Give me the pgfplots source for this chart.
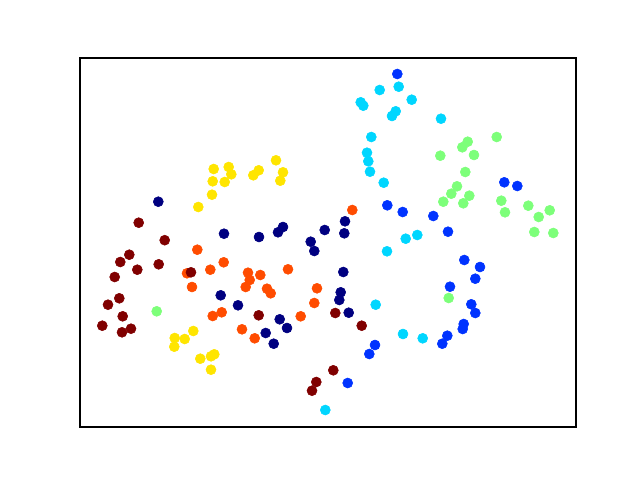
\documentclass[border=0pt]{standalone}
\usepackage{pgfplots}
\pgfplotsset{compat=1.18}

\definecolor{c0}{rgb}{0,0,0.5}
\definecolor{c1}{rgb}{0,0.2,1}
\definecolor{c2}{rgb}{0,0.84,1}
\definecolor{c3}{rgb}{0.49,1,0.48}
\definecolor{c4}{rgb}{1,0.9,0}
\definecolor{c5}{rgb}{1,0.3,0}
\definecolor{c6}{rgb}{0.5,0,0}

\begin{document}
\begin{tikzpicture}[x=1pt,y=1pt]
\path (0,0) rectangle (460.8,345.6);
\begin{axis}[
  at={(57.6pt,38.16pt)}, anchor=south west,
  scale only axis,
  width=357.12pt, height=265.68pt,
  xmin=80, xmax=576, ymin=58, ymax=427,
  y dir=reverse,
  xtick=\empty, ytick=\empty,
  axis line style={line width=0.8pt},
  every axis plot/.append style={only marks, mark=*, mark size=3.6pt},
]
% navy
\addplot[mark options={draw=c0, fill=c0}] coordinates {
(158.3,201.7) (224,233.7) (259,237) (278,232.3) (283,227) (310.7,241.7)
(324.7,230) (314.3,251) (345,221.3) (344.3,233.3) (220.7,295.3) (238,305.3)
(279.7,319.3) (287,328) (265.7,333) (273.7,343.7) (343.3,272) (340.7,292.3)
(339.3,300) (348.7,312.7)
};
% blue
\addplot[mark options={draw=c1, fill=c1}] coordinates {
(397.3,74) (387.3,205.3) (402.7,212) (433.3,216) (448,231.7) (504.3,182.3)
(517.3,186) (464.3,260) (480,267) (475.3,278.7) (450,286.7) (471.3,304.3)
(475.3,313) (463.7,324) (462.7,329) (447.3,335.7) (442.3,343.7) (375,345)
(369.3,354) (347.7,383)
};
% cyan
\addplot[mark options={draw=c2, fill=c2}] coordinates {
(379.7,90) (398.7,86.7) (360.7,102.3) (363.3,105.7) (411.7,99.7) (395.7,111.3)
(392,116) (441,118.7) (371.3,137) (367,152.7) (368.3,161.3) (370,171.7)
(383.7,182.7) (405.7,238.7) (417.3,235) (387,251.3) (375.7,304.7) (403,334)
(422.7,338.3) (325.3,410)
};
% green
\addplot[mark options={draw=c3, fill=c3}] coordinates {
(496.7,137) (467.7,141.7) (462.3,147.3) (474,155) (440.3,155.7) (465.3,172)
(457,186.3) (451.3,193.7) (469.3,195.7) (443.3,201.7) (463.3,203.3) (501.3,200.7)
(505,212.3) (528.3,205.7) (538.7,217) (549.7,210.3) (534.3,232) (553.3,233)
(448.7,298) (156.7,311.3)
};
% yellow
\addplot[mark options={draw=c4, fill=c4}] coordinates {
(213.7,169) (228.7,167) (231.3,174.3) (212.7,181.3) (224.7,182) (253.3,175.3)
(258.7,170.3) (276,160.3) (283,172.3) (280.3,180.7) (212,194.7) (198.3,207)
(193.3,331) (174.7,338) (184.7,339) (174.3,346.7) (200.3,358.7) (211,356.3)
(214.3,354.3) (211,369.7)
};
% orange
\addplot[mark options={draw=c5, fill=c5}] coordinates {
(352.3,210) (197.3,249.7) (223.7,262.3) (210.3,269.7) (187,273.3) (192,287)
(248,272.7) (260.3,275) (249.7,280) (245.7,287) (267,288.7) (270.7,293.3)
(288,269.3) (317,288.3) (314.3,303) (300.7,316.3) (221.7,312.3) (212.7,316)
(242,329.3) (254.7,338.3)
};
% dark red
\addplot[mark options={draw=c6, fill=c6}] coordinates {
(138.7,222.7) (164.7,240.2) (129.3,254.7) (120.3,262) (137.3,269.7) (158.7,264.3)
(114.7,277) (191,272.3) (119.3,298.3) (108,304.7) (122.7,316.3) (102.3,325.7)
(122,332.3) (131,328.7) (258.7,315.3) (316.3,382) (312,390.7) (333.3,370.3)
(335.3,313) (361.7,325.7)
};
\end{axis}
\end{tikzpicture}
\end{document}
